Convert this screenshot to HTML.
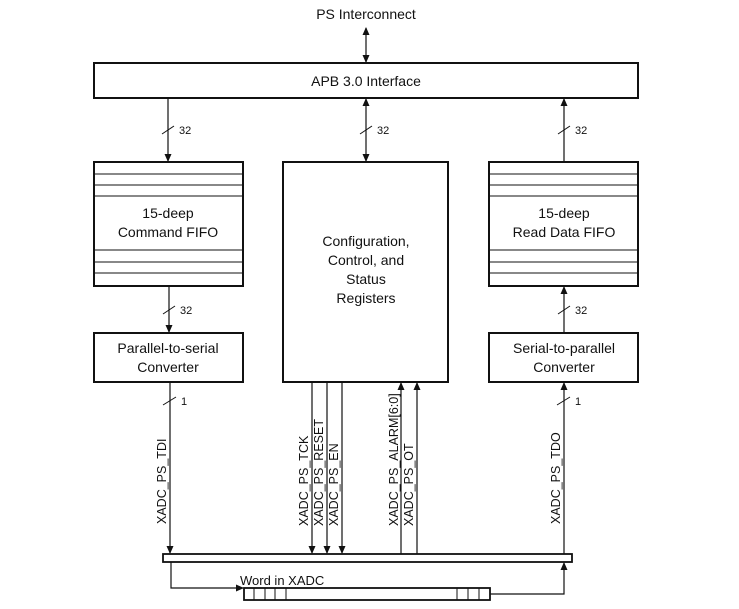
<!DOCTYPE html>
<html><head><meta charset="utf-8"><style>
html,body{margin:0;padding:0;background:#fff;}
svg{display:block;}
text{font-family:"Liberation Sans",Arial,sans-serif;fill:#111;}
</style></head><body>
<svg width="739" height="609" viewBox="0 0 739 609" xmlns="http://www.w3.org/2000/svg">
<defs>
<marker id="a" markerWidth="8" markerHeight="10" refX="7" refY="5" orient="auto" markerUnits="userSpaceOnUse">
<path d="M0,1.5 L8,5 L0,8.5 Z" fill="#111"/></marker>
<marker id="s" markerWidth="8" markerHeight="10" refX="1" refY="5" orient="auto" markerUnits="userSpaceOnUse">
<path d="M8,1.5 L0,5 L8,8.5 Z" fill="#111"/></marker>
</defs>
<g stroke="#111" fill="none">
<!-- top -->
<line x1="366" y1="28" x2="366" y2="62" stroke-width="1.2" marker-start="url(#s)" marker-end="url(#a)"/>
<rect x="94" y="63" width="544" height="35" stroke-width="2"/>
<!-- 32 arrows -->
<line x1="168" y1="98" x2="168" y2="161" stroke-width="1.2" marker-end="url(#a)"/>
<line x1="366" y1="99" x2="366" y2="161" stroke-width="1.2" marker-start="url(#s)" marker-end="url(#a)"/>
<line x1="564" y1="162" x2="564" y2="99" stroke-width="1.2" marker-end="url(#a)"/>
<line x1="162" y1="134" x2="174" y2="126" stroke-width="1"/>
<line x1="360" y1="134" x2="372" y2="126" stroke-width="1"/>
<line x1="558" y1="134" x2="570" y2="126" stroke-width="1"/>
<!-- command fifo -->
<rect x="94" y="162" width="149" height="124" stroke-width="2"/>
<line x1="94" y1="174" x2="243" y2="174"/><line x1="94" y1="185" x2="243" y2="185"/><line x1="94" y1="196" x2="243" y2="196"/>
<line x1="94" y1="250" x2="243" y2="250"/><line x1="94" y1="262" x2="243" y2="262"/><line x1="94" y1="273" x2="243" y2="273"/>
<!-- read fifo -->
<rect x="489" y="162" width="149" height="124" stroke-width="2"/>
<line x1="489" y1="174" x2="638" y2="174"/><line x1="489" y1="185" x2="638" y2="185"/><line x1="489" y1="196" x2="638" y2="196"/>
<line x1="489" y1="250" x2="638" y2="250"/><line x1="489" y1="262" x2="638" y2="262"/><line x1="489" y1="273" x2="638" y2="273"/>
<!-- config -->
<rect x="283" y="162" width="165" height="220" stroke-width="2"/>
<!-- fifo to converters -->
<line x1="169" y1="286" x2="169" y2="332" stroke-width="1.2" marker-end="url(#a)"/>
<line x1="564" y1="332" x2="564" y2="287" stroke-width="1.2" marker-end="url(#a)"/>
<line x1="163" y1="314" x2="175" y2="306" stroke-width="1"/>
<line x1="558" y1="314" x2="570" y2="306" stroke-width="1"/>
<rect x="94" y="333" width="149" height="49" stroke-width="2"/>
<rect x="489" y="333" width="149" height="49" stroke-width="2"/>
<!-- signals -->
<line x1="170" y1="382" x2="170" y2="553" stroke-width="1.2" marker-end="url(#a)"/>
<line x1="163" y1="405" x2="176" y2="397" stroke-width="1"/>
<line x1="564" y1="554" x2="564" y2="383" stroke-width="1.2" marker-end="url(#a)"/>
<line x1="557" y1="405" x2="570" y2="397" stroke-width="1"/>
<line x1="312" y1="382" x2="312" y2="553" stroke-width="1.2" marker-end="url(#a)"/>
<line x1="327" y1="382" x2="327" y2="553" stroke-width="1.2" marker-end="url(#a)"/>
<line x1="342" y1="382" x2="342" y2="553" stroke-width="1.2" marker-end="url(#a)"/>
<line x1="401" y1="554" x2="401" y2="383" stroke-width="1.2" marker-end="url(#a)"/>
<line x1="417" y1="554" x2="417" y2="383" stroke-width="1.2" marker-end="url(#a)"/>
<!-- bar -->
<rect x="163" y="554" width="409" height="8" stroke-width="1.8"/>
<polyline points="171,562 171,588 243,588" stroke-width="1.2" marker-end="url(#a)"/>
<polyline points="490,594 564,594 564,563" stroke-width="1.2" marker-end="url(#a)"/>
<rect x="244" y="588" width="246" height="12" stroke-width="1.8"/>
<line x1="254" y1="588" x2="254" y2="600"/><line x1="265" y1="588" x2="265" y2="600"/><line x1="275" y1="588" x2="275" y2="600"/><line x1="286" y1="588" x2="286" y2="600"/>
<line x1="457" y1="588" x2="457" y2="600"/><line x1="468" y1="588" x2="468" y2="600"/><line x1="479" y1="588" x2="479" y2="600"/>
</g>
<g font-size="14" text-anchor="middle">
<text x="366" y="19">PS Interconnect</text>
<text x="366" y="86">APB 3.0 Interface</text>
<text x="168" y="218">15-deep</text>
<text x="168" y="237">Command FIFO</text>
<text x="564" y="218">15-deep</text>
<text x="564" y="237">Read Data FIFO</text>
<text x="366" y="246">Configuration,</text>
<text x="366" y="265">Control, and</text>
<text x="366" y="284">Status</text>
<text x="366" y="303">Registers</text>
<text x="168" y="353">Parallel-to-serial</text>
<text x="168" y="372">Converter</text>
<text x="564" y="353">Serial-to-parallel</text>
<text x="564" y="372">Converter</text>
</g>
<g font-size="11">
<text x="179" y="134">32</text>
<text x="377" y="134">32</text>
<text x="575" y="134">32</text>
<text x="180" y="314">32</text>
<text x="575" y="314">32</text>
<text x="181" y="405">1</text>
<text x="575" y="405">1</text>
</g>
<g font-size="13">
<text x="240" y="585">Word in XADC</text>
</g>
<g font-size="12.5">
<text transform="translate(166,524) rotate(-90)">XADC_PS_TDI</text>
<text transform="translate(308,526) rotate(-90)">XADC_PS_TCK</text>
<text transform="translate(323,526) rotate(-90)">XADC_PS_RESET</text>
<text transform="translate(338,526) rotate(-90)">XADC_PS_EN</text>
<text transform="translate(398,526) rotate(-90)">XADC_PS_ALARM[6:0]</text>
<text transform="translate(413,526) rotate(-90)">XADC_PS_OT</text>
<text transform="translate(560,524) rotate(-90)">XADC_PS_TDO</text>
</g>
</svg>
</body></html>
